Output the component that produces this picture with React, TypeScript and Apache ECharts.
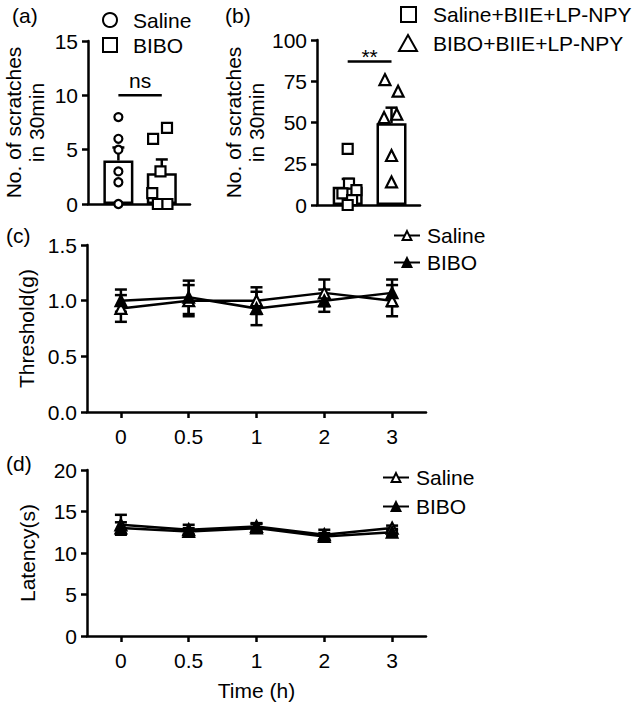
import React, { useEffect, useRef } from "react";
import * as echarts from "echarts";

// ---- Panel (a) ----
const groupsA = ["Saline", "BIBO"];
const salinePtsA = [8, 6, 5, 3, 2, 0];
const salineJitA = [0, 0, 0, 0, 0, 0];
const biboPtsA = [7, 6, 3, 1, 0, 0];
const biboJitA = [0.12, -0.2, -0.03, -0.22, -0.09, 0.13];
const meanA = [4.0, 2.83];
const semA = [1.2, 1.27];

// ---- Panel (b) ----
const groupsB = ["Saline+BIIE+LP-NPY", "BIBO+BIIE+LP-NPY"];
const salinePtsB = [34, 13, 9, 7, 3, 0];
const salineJitB = [0, 0.03, 0.2, -0.12, 0.1, 0];
const biboPtsB = [76, 69, 55, 53, 30, 14];
const biboJitB = [-0.15, 0.15, 0.12, -0.17, 0, 0];
const meanB = [11, 49.5];
const semB = [4.8, 9.5];

// ---- Panels (c), (d) ----
const timeLabels = ["0", "0.5", "1", "2", "3"];
const thrSaline = [0.93, 1.0, 1.0, 1.07, 1.0];
const thrSalineSem = [0.12, 0.14, 0.12, 0.12, 0.14];
const thrBibo = [1.0, 1.03, 0.93, 1.0, 1.07];
const thrBiboSem = [0.1, 0.15, 0.15, 0.1, 0.12];
const latSaline = [13.4, 12.8, 13.2, 12.2, 13.0];
const latSalineSem = [1.2, 0.6, 0.4, 0.6, 0.3];
const latBibo = [13.0, 12.6, 13.0, 12.0, 12.5];
const latBiboSem = [0.7, 0.4, 0.5, 0.4, 0.4];

const FONT = '"Liberation Sans", Arial, Helvetica, sans-serif';
const FS = 21;
const LW = 2.5;

function errRender(capHalf: number, both: boolean) {
  return (_params: any, api: any) => {
    const x = api.value(0);
    const m = api.value(1);
    const s = api.value(2);
    const top = api.coord([x, m + s]);
    const mid = api.coord([x, m]);
    const bot = api.coord([x, m - s]);
    const style = { stroke: "#000", lineWidth: LW };
    const end = both ? bot : mid;
    const children: any[] = [
      { type: "line", shape: { x1: top[0], y1: top[1], x2: end[0], y2: end[1] }, style },
      { type: "line", shape: { x1: top[0] - capHalf, y1: top[1], x2: top[0] + capHalf, y2: top[1] }, style },
    ];
    if (both) {
      children.push({ type: "line", shape: { x1: bot[0] - capHalf, y1: bot[1], x2: bot[0] + capHalf, y2: bot[1] }, style });
    }
    return { type: "group", children };
  };
}

function sigRender(label: string, textGap: number) {
  return (_params: any, api: any) => {
    const p0 = api.coord([api.value(0), api.value(2)]);
    const p1 = api.coord([api.value(1), api.value(2)]);
    return {
      type: "group",
      children: [
        { type: "line", shape: { x1: p0[0], y1: p0[1], x2: p1[0], y2: p1[1] }, style: { stroke: "#000", lineWidth: LW } },
        {
          type: "text",
          x: (p0[0] + p1[0]) / 2,
          y: p0[1] - textGap,
          style: {
            text: label,
            fill: "#000",
            font: `${FS}px ${FONT}`,
            align: "center",
            textAlign: "center",
            verticalAlign: "bottom",
            textVerticalAlign: "bottom",
          },
        },
      ],
    };
  };
}

const axisLineY = { show: true, onZero: false, lineStyle: { color: "#000", width: LW } };
const axisLineX = { show: true, onZero: false, lineStyle: { color: "#000", width: LW } };
const axisLabel = { color: "#000", fontSize: FS, fontFamily: FONT };

function barYAxis(gridIndex: number, max: number, interval: number, nameGap: number) {
  return {
    type: "value",
    gridIndex,
    min: 0,
    max,
    interval,
    name: "No. of scratches\nin 30min",
    nameLocation: "middle",
    nameRotate: 90,
    nameGap,
    nameTextStyle: { color: "#000", fontSize: FS, fontFamily: FONT, lineHeight: 23 },
    axisLine: axisLineY,
    axisTick: { show: true, length: 6, lineStyle: { color: "#000", width: LW } },
    axisLabel: { ...axisLabel, margin: 10 },
    splitLine: { show: false },
  };
}

function lineYAxis(gridIndex: number, max: number, interval: number, name: string, digits: number) {
  return {
    type: "value",
    gridIndex,
    min: 0,
    max,
    interval,
    name,
    nameLocation: "middle",
    nameRotate: 90,
    nameGap: 49,
    nameTextStyle: { color: "#000", fontSize: FS, fontFamily: FONT },
    axisLine: axisLineY,
    axisTick: { show: true, length: 6, lineStyle: { color: "#000", width: LW } },
    axisLabel: { ...axisLabel, margin: 10, formatter: (v: number) => v.toFixed(digits) },
    splitLine: { show: false },
  };
}

function catXAxis(gridIndex: number, withName: boolean) {
  return {
    type: "category",
    gridIndex,
    data: timeLabels,
    boundaryGap: true,
    name: withName ? "Time (h)" : "",
    nameLocation: "middle",
    nameGap: 44,
    nameTextStyle: { color: "#000", fontSize: FS, fontFamily: FONT },
    axisLine: axisLineX,
    axisTick: { show: true, alignWithLabel: true, length: 6, lineStyle: { color: "#000", width: LW } },
    axisLabel: { ...axisLabel, margin: 14 },
    splitLine: { show: false },
  };
}

function barXAxis(gridIndex: number) {
  return {
    type: "value",
    gridIndex,
    min: -0.7,
    max: 1.65,
    axisLine: axisLineX,
    axisTick: { show: false },
    axisLabel: { show: false },
    splitLine: { show: false },
  };
}

const openSym = { color: "#fff", borderColor: "#000", borderWidth: 2.2, opacity: 1 };
const filledSym = { color: "#000", borderColor: "#000", borderWidth: 2, opacity: 1 };

function lineSeries(name: string, values: number[], idx: number, filled: boolean) {
  return {
    type: "line",
    name,
    xAxisIndex: idx,
    yAxisIndex: idx,
    data: values,
    symbol: "triangle",
    symbolSize: 11,
    itemStyle: filled ? filledSym : openSym,
    lineStyle: { color: "#000", width: LW },
    z: 5,
  };
}

function errSeries(name: string, values: number[], sems: number[], idx: number) {
  return {
    type: "custom",
    name,
    xAxisIndex: idx,
    yAxisIndex: idx,
    data: values.map((v, i) => [i, v, sems[i]]),
    encode: { x: 0, y: 1 },
    renderItem: errRender(6, true),
    z: 3,
    silent: true,
  };
}

export default function App() {
  const ref = useRef<HTMLDivElement>(null);
  useEffect(() => {
    const chart = echarts.init(ref.current!, null, { renderer: "svg" });
    const textStyle = (t: string, x: number, y: number) => ({
      type: "text",
      x,
      y,
      style: {
        text: t,
        fill: "#000",
        font: `${FS}px ${FONT}`,
        align: "left",
        textAlign: "left",
        verticalAlign: "middle",
        textVerticalAlign: "middle",
      },
    });
    const legendBase = {
      orient: "vertical",
      itemWidth: 26,
      itemHeight: 11,
      data: ["Saline", "BIBO"],
      textStyle: { color: "#000", fontSize: FS, fontFamily: FONT, padding: [0, 0, 0, 2] },
      selectedMode: false,
    };
    const option: any = {
      animation: false,
      backgroundColor: "#fff",
      textStyle: { fontFamily: FONT, color: "#000" },
      grid: [
        { left: 88, top: 41, width: 102, height: 163 },
        { left: 317, top: 40, width: 103, height: 165 },
        { left: 87, top: 245, width: 339, height: 167 },
        { left: 87, top: 470, width: 339, height: 166 },
      ],
      xAxis: [barXAxis(0), barXAxis(1), catXAxis(2, false), catXAxis(3, true)],
      yAxis: [
        barYAxis(0, 15, 5, 40),
        barYAxis(1, 100, 25, 48),
        lineYAxis(2, 1.5, 0.5, "Threshold(g)", 1),
        lineYAxis(3, 20, 5, "Latency(s)", 0),
      ],
      legend: [
        { ...legendBase, left: 388, top: 220, itemGap: 6 },
        { ...legendBase, left: 377, top: 462, itemGap: 8 },
      ],
      graphic: [
        textStyle("(a)", 12, 15),
        textStyle("(b)", 225, 15),
        textStyle("(c)", 6, 235),
        textStyle("(d)", 6, 463),
        { type: "circle", shape: { cx: 110, cy: 20, r: 7 }, style: { fill: "#fff", stroke: "#000", lineWidth: 2 } },
        textStyle(groupsA[0], 133, 20),
        { type: "rect", shape: { x: 103, y: 38, width: 14, height: 14 }, style: { fill: "#fff", stroke: "#000", lineWidth: 2 } },
        textStyle(groupsA[1], 133, 45),
        { type: "rect", shape: { x: 401, y: 7, width: 15, height: 15 }, style: { fill: "#fff", stroke: "#000", lineWidth: 2 } },
        textStyle(groupsB[0], 433, 14),
        {
          type: "polygon",
          shape: { points: [[408, 35], [399, 51], [417, 51]] },
          style: { fill: "#fff", stroke: "#000", lineWidth: 2 },
        },
        textStyle(groupsB[1], 433, 43),
      ],
      series: [
        // (a)
        {
          type: "bar",
          name: "a-mean",
          xAxisIndex: 0,
          yAxisIndex: 0,
          data: meanA.map((v, i) => [i, v]),
          barWidth: 30,
          itemStyle: { color: "#fff", borderColor: "#000", borderWidth: LW },
          z: 1,
        },
        {
          type: "custom",
          name: "a-sem",
          xAxisIndex: 0,
          yAxisIndex: 0,
          data: meanA.map((v, i) => [i, v, semA[i]]),
          encode: { x: 0, y: 1 },
          renderItem: errRender(6, false),
          z: 2,
        },
        {
          type: "scatter",
          name: "a-" + groupsA[0],
          xAxisIndex: 0,
          yAxisIndex: 0,
          data: salinePtsA.map((v, i) => [0 + salineJitA[i], v]),
          symbol: "circle",
          symbolSize: 8,
          itemStyle: openSym,
          z: 4,
        },
        {
          type: "scatter",
          name: "a-" + groupsA[1],
          xAxisIndex: 0,
          yAxisIndex: 0,
          data: biboPtsA.map((v, i) => [1 + biboJitA[i], v]),
          symbol: "rect",
          symbolSize: 10,
          itemStyle: openSym,
          z: 4,
        },
        {
          type: "custom",
          name: "a-sig",
          xAxisIndex: 0,
          yAxisIndex: 0,
          data: [[0, 1, 10]],
          encode: { x: 0, y: 2 },
          renderItem: sigRender("ns", 4),
          z: 4,
        },
        // (b)
        {
          type: "bar",
          name: "b-mean",
          xAxisIndex: 1,
          yAxisIndex: 1,
          data: meanB.map((v, i) => [i, v]),
          barWidth: 30,
          itemStyle: { color: "#fff", borderColor: "#000", borderWidth: LW },
          z: 1,
        },
        {
          type: "custom",
          name: "b-sem",
          xAxisIndex: 1,
          yAxisIndex: 1,
          data: meanB.map((v, i) => [i, v, semB[i]]),
          encode: { x: 0, y: 1 },
          renderItem: errRender(6, false),
          z: 2,
        },
        {
          type: "scatter",
          name: "b-" + groupsB[0],
          xAxisIndex: 1,
          yAxisIndex: 1,
          data: salinePtsB.map((v, i) => [0 + salineJitB[i], v]),
          symbol: "rect",
          symbolSize: 10,
          itemStyle: openSym,
          z: 4,
        },
        {
          type: "scatter",
          name: "b-" + groupsB[1],
          xAxisIndex: 1,
          yAxisIndex: 1,
          data: biboPtsB.map((v, i) => [1 + biboJitB[i], v]),
          symbol: "triangle",
          symbolSize: 11,
          itemStyle: openSym,
          z: 4,
        },
        {
          type: "custom",
          name: "b-sig",
          xAxisIndex: 1,
          yAxisIndex: 1,
          data: [[0, 1, 87]],
          encode: { x: 0, y: 2 },
          renderItem: sigRender("**", -6),
          z: 4,
        },
        // (c)
        errSeries("c-sem-saline", thrSaline, thrSalineSem, 2),
        errSeries("c-sem-bibo", thrBibo, thrBiboSem, 2),
        lineSeries("Saline", thrSaline, 2, false),
        lineSeries("BIBO", thrBibo, 2, true),
        // (d)
        errSeries("d-sem-saline", latSaline, latSalineSem, 3),
        errSeries("d-sem-bibo", latBibo, latBiboSem, 3),
        lineSeries("Saline", latSaline, 3, false),
        lineSeries("BIBO", latBibo, 3, true),
      ],
    };
    chart.setOption(option);
    return () => chart.dispose();
  }, []);
  return (
    <div
      ref={ref}
      style={{ position: "fixed", left: 0, top: 0, width: 633, height: 703, background: "#fff" }}
    />
  );
}
